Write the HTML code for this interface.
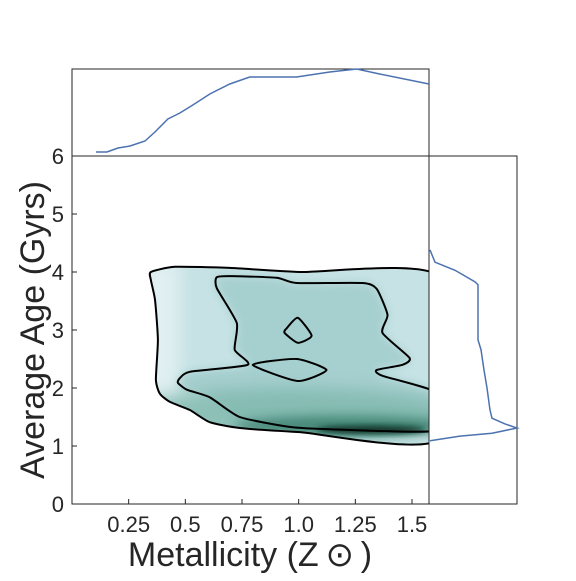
<!DOCTYPE html>
<html><head><meta charset="utf-8"><style>
body{margin:0;background:#fff;}
svg text{font-family:"Liberation Sans",sans-serif;fill:#262626;}
</style></head><body>
<svg id="chart" width="576" height="576" viewBox="0 0 576 576" xmlns="http://www.w3.org/2000/svg">
<defs>
<filter id="blur" x="-50%" y="-50%" width="200%" height="200%"><feGaussianBlur stdDeviation="8"/></filter>
<filter id="blur2" x="-50%" y="-50%" width="200%" height="200%"><feGaussianBlur stdDeviation="5"/></filter>
<filter id="blur3" x="-50%" y="-50%" width="200%" height="200%"><feGaussianBlur stdDeviation="3"/></filter>
<clipPath id="clipOuter"><path id="clipPath"/></clipPath>
<clipPath id="clipMain"><rect x="72" y="156" width="357" height="348"/></clipPath>
</defs>
<g id="main"></g>
</svg>
<script>
// main plot data (metallicity, age)
const xTicks=[0.25,0.5,0.75,1.0,1.25,1.5];
const xTickLabels=["0.25","0.5","0.75","1.0","1.25","1.5"];
const yTicks=[0,1,2,3,4,5,6];
const outerX=[0.348,0.454,0.696,1.004,1.62,1.62,1.004,0.74,0.608,0.52,0.432,0.388,0.37,0.379,0.366,0.348];
const outerY=[4.0,4.09,4.07,4.0,3.92,1.12,1.24,1.31,1.41,1.62,1.76,1.90,2.14,2.83,3.52,3.86];
const midX=[0.639,0.705,0.903,0.991,1.282,1.344,1.392,1.370,1.489,1.458,1.344,1.370,1.62,1.62,1.137,0.960,0.740,0.608,0.507,0.467,0.476,0.520,0.775,0.718,0.727,0.639];
const midY=[3.91,3.93,3.90,3.81,3.81,3.71,3.26,2.95,2.52,2.40,2.31,2.21,1.90,1.27,1.29,1.33,1.50,1.84,1.97,2.09,2.17,2.28,2.40,2.66,3.12,3.72];
const diamondX=[0.996,1.057,0.996,0.938,0.947];
const diamondY=[3.21,2.90,2.78,2.95,3.03];
const quadX=[0.797,0.991,1.123,0.996];
const quadY=[2.40,2.50,2.31,2.12];
// marginals
const topX=[0.106,0.154,0.203,0.256,0.322,0.366,0.423,0.476,0.533,0.608,0.696,0.784,0.991,1.137,1.256,1.357,1.575];
const topD=[4,4,8,10,15,24,37,43,51,62,72,79,79,84,87,82,72];
const rightAge=[4.38,4.17,4.03,3.83,3.78,2.83,2.66,2.31,2.0,1.62,1.48,1.38,1.31,1.22,1.17,1.09];
const rightD=[1,6,26,46,49,49,52,55,58,61,63,76,88,63,31,1];

const L=72,R=429,T=156,B=504,TT=69,RR=517;
const sx=v=>L+v*(R-L)/1.575;
const sy=v=>B-v*(B-T)/6;
const tdy=d=>T-d*(T-TT)/87;
const rdx=d=>R+d*(RR-R)/88;
const NS="http://www.w3.org/2000/svg";
const g=document.getElementById('main');
function el(t,a,p){const e=document.createElementNS(NS,t);for(const k in a)e.setAttribute(k,a[k]);(p||g).appendChild(e);return e;}
function smooth(xs,ys){
  const p=xs.map((x,i)=>[sx(x),sy(ys[i])]);const n=p.length;const k=0.1;
  let d='M'+p[0][0].toFixed(1)+','+p[0][1].toFixed(1);
  for(let i=0;i<n;i++){
    const p0=p[(i-1+n)%n],p1=p[i],p2=p[(i+1)%n],p3=p[(i+2)%n];
    const c1=[p1[0]+(p2[0]-p0[0])*k,p1[1]+(p2[1]-p0[1])*k];
    const c2=[p2[0]-(p3[0]-p1[0])*k,p2[1]-(p3[1]-p1[1])*k];
    d+='C'+c1.map(v=>v.toFixed(1))+' '+c2.map(v=>v.toFixed(1))+' '+p2[0].toFixed(1)+','+p2[1].toFixed(1);
  }
  return d+'Z';
}

const mainG=el('g',{'clip-path':'url(#clipMain)'});


document.getElementById('clipPath').setAttribute('d',smooth(outerX,outerY));
const shade=el('g',{'clip-path':'url(#clipOuter)'},mainG);


el('path',{d:smooth(outerX,outerY),fill:'#c6e2e4'},shade);
el('rect',{x:sx(0.3),y:sy(4.2),width:40,height:200,fill:'#e0eff2',filter:'url(#blur)'},shade);
el('path',{d:smooth(midX,midY),fill:'#a6cfcf',filter:'url(#blur2)'},shade);
el('ellipse',{cx:sx(0.95),cy:sy(1.55),rx:170,ry:26,fill:'#7ab5a9',opacity:0.75,filter:'url(#blur)'},shade);
el('ellipse',{cx:sx(1.2),cy:sy(1.35),rx:110,ry:10,fill:'#3d8170',opacity:0.85,filter:'url(#blur2)'},shade);
el('ellipse',{cx:sx(1.32),cy:sy(1.28),rx:55,ry:4,fill:'#0d3226',filter:'url(#blur3)'},shade);

[[outerX,outerY,'outer-contour'],[midX,midY,'middle-contour'],[diamondX,diamondY,'inner-contour-diamond'],[quadX,quadY,'inner-contour-quad']].forEach(([xs,ys,n])=>{
  const p=el('path',{d:smooth(xs,ys),fill:'none',stroke:'#000','stroke-width':2,'stroke-linejoin':'round'},mainG);
  
  
});

// axes frames
const fr=el('rect',{x:L,y:T,width:R-L,height:B-T,fill:'none',stroke:'#262626','stroke-width':1});


const ft=el('rect',{x:L,y:TT,width:R-L,height:T-TT,fill:'none',stroke:'#262626','stroke-width':1});


const fri=el('rect',{x:R,y:T,width:RR-R,height:B-T,fill:'none',stroke:'#262626','stroke-width':1});



const tl=el('path',{d:topX.map((x,i)=>(i?'L':'M')+sx(x)+','+tdy(topD[i])).join(''),fill:'none',stroke:'#4c72b0','stroke-width':1.5});


const rl=el('path',{d:rightAge.map((a,i)=>(i?'L':'M')+rdx(rightD[i])+','+sy(a)).join(''),fill:'none',stroke:'#4c72b0','stroke-width':1.5});



xTicks.forEach((v,i)=>{
  el('line',{x1:sx(v),x2:sx(v),y1:B,y2:B-5,stroke:'#262626'});
  const t=el('text',{x:sx(v),y:B+28,'text-anchor':'middle','font-size':22});
  t.textContent=xTickLabels[i];
  
  
});
yTicks.forEach(v=>{
  el('line',{x1:L,x2:L+5,y1:sy(v),y2:sy(v),stroke:'#262626'});
  const t=el('text',{x:L-8,y:sy(v)+8,'text-anchor':'end','font-size':22});
  t.textContent=v;
  
  
});
const xl=el('text',{x:250,y:566,'text-anchor':'middle','font-size':34});
xl.textContent='Metallicity (Z\u2009\u2299\u2009)';


const yl=el('text',{x:0,y:0,'text-anchor':'middle','font-size':34,transform:'translate(44,330) rotate(-90)'});
yl.textContent='Average Age (Gyrs)';


</script>
</body></html>
